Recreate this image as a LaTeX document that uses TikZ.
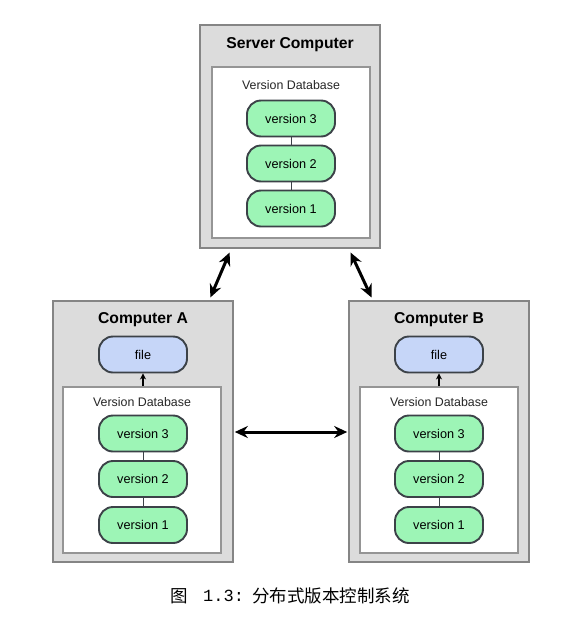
\documentclass[tikz,border=0pt]{standalone}
\usepackage{fontspec}
\setmainfont{Liberation Sans}
\setmonofont{Liberation Mono}
\newfontfamily\cjk{Noto Sans CJK SC}
\usetikzlibrary{arrows.meta,positioning}

\definecolor{boxgray}{HTML}{DCDCDC}
\definecolor{boxline}{HTML}{858585}
\definecolor{dbline}{HTML}{959595}
\definecolor{pillgreen}{HTML}{9DF5B6}
\definecolor{pillblue}{HTML}{C6D6F8}
\definecolor{pillline}{HTML}{3C4248}

\begin{document}
\begin{tikzpicture}[x=1pt, y=-1pt,
					computer/.style={draw=boxline, line width=1.6pt, fill=boxgray, minimum width=180pt, inner sep=0pt},
					database/.style={draw=dbline, line width=1.3pt, fill=white, minimum width=158pt, inner sep=0pt},
					version/.style={draw=pillline, line width=1.9pt, fill=pillgreen, rounded corners=14pt, minimum width=88pt, minimum height=36pt, inner sep=0pt, font=\fontsize{12.7}{14}\selectfont},
					workfile/.style={version, fill=pillblue},
					title/.style={font=\fontsize{15.7}{18}\selectfont\bfseries},
					db label/.style={font=\fontsize{12.4}{14}\selectfont, text=black!85},
					link/.style={draw=pillline, line width=1pt},
					sync/.style={line width=3pt, {Stealth[length=13pt,width=12pt]}-{Stealth[length=13pt,width=12pt]}},
					checkout/.style={line width=1.3pt, -{Stealth[length=6pt,width=6pt]}},
				]
					\useasboundingbox (0,0) rectangle (571,622);

					% server
					\node[computer, minimum height=223pt] (server) at (290,136.5) {};
					\node[database, minimum height=171pt] (serverdb) at (291,152.5) {};
					\node[title] at (290,45) {Server Computer};
					\node[db label] at (291,85) {Version Database};
					\node[version] (s3) at (291,118.5) {version 3};
					\node[version] (s2) at (291,163.5) {version 2};
					\node[version] (s1) at (291,208.5) {version 1};
					\draw[link] (s3) -- (s2) (s2) -- (s1);

					% computer A
					\node[computer, minimum height=261pt] (compA) at (143,431.5) {};
					\node[database, minimum height=166pt] (dbA) at (142,470) {};
					\node[title] at (143,320) {Computer A};
					\node[workfile] (fileA) at (143,354.5) {file};
					\node[db label] at (142,402) {Version Database};
					\node[version] (a3) at (143,433.5) {version 3};
					\node[version] (a2) at (143,479) {version 2};
					\node[version] (a1) at (143,525) {version 1};
					\draw[link] (a3) -- (a2) (a2) -- (a1);
					\draw[checkout] (dbA.north -| fileA) -- (fileA.south);

					% computer B
					\node[computer, minimum height=261pt] (compB) at (439,431.5) {};
					\node[database, minimum height=166pt] (dbB) at (439,470) {};
					\node[title] at (439,320) {Computer B};
					\node[workfile] (fileB) at (439,354.5) {file};
					\node[db label] at (439,402) {Version Database};
					\node[version] (b3) at (439,433.5) {version 3};
					\node[version] (b2) at (439,479) {version 2};
					\node[version] (b1) at (439,525) {version 1};
					\draw[link] (b3) -- (b2) (b2) -- (b1);
					\draw[checkout] (dbB.north -| fileB) -- (fileB.south);

					% sync arrows
					\draw[sync, shorten <=4pt, shorten >=3pt] ([xshift=32pt]server.south west) -- ([xshift=157pt]compA.north west);
					\draw[sync, shorten <=4pt, shorten >=3pt] ([xshift=-32pt]server.south east) -- ([xshift=-157pt]compB.north east);
					\draw[sync, shorten <=1pt, shorten >=1pt] (compA.east |- 0,432) -- (compB.west |- 0,432);

					% caption
					\node[font=\cjk\fontsize{17.5}{20}\selectfont] (fig) at (179.5,596) {图};
					\node[font=\fontsize{17}{20}\selectfont, anchor=west, inner sep=0pt] (number) at (203,596) {\texttt{1.3:}};
					\node[font=\cjk\fontsize{17.5}{20}\selectfont, anchor=west, inner sep=0pt] (caption) at (252,596) {分布式版本控制系统};
				\end{tikzpicture}
\end{document}
